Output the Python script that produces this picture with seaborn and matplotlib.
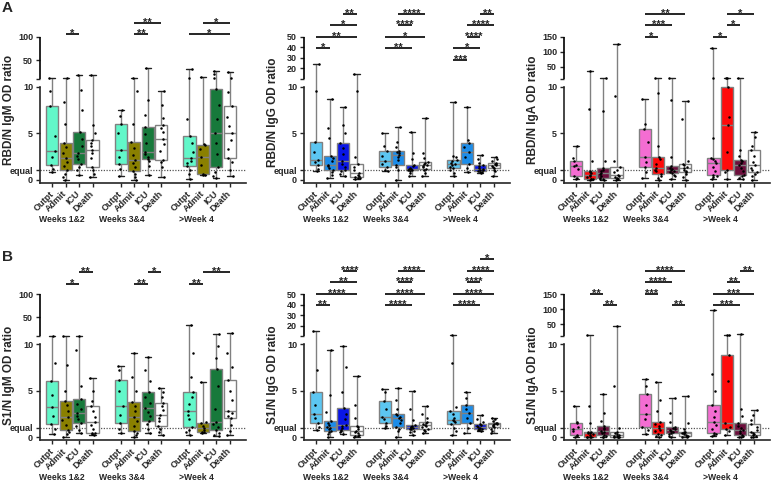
import numpy as np
import pandas as pd
import matplotlib
matplotlib.use("Agg")
import matplotlib.pyplot as plt
import matplotlib.transforms as mtransforms
import seaborn as sns

# ---------------------------------------------------------------
# categories
# ---------------------------------------------------------------
statuses = ["Outpt", "Admit", "ICU", "Death"]
periods = ["Weeks 1&2", "Weeks 3&4", ">Week 4"]

# ---------------------------------------------------------------
# OD ratios (one list per box: Outpt, Admit, ICU, Death)
# ---------------------------------------------------------------
rbd_igm_w12 = [
    [0.8, 1.2, 1.6, 2.4, 3.1, 4.7, 7.9, 9.5, 11.0],
    [0.0, 0.3, 0.6, 1.0, 1.5, 1.9, 2.3, 2.9, 3.5, 4.0, 6.0, 8.4, 12.0],
    [0.5, 1.0, 1.4, 1.7, 2.2, 2.6, 2.9, 3.6, 4.4, 5.1, 7.5, 9.7, 18.0],
    [0.3, 0.6, 1.1, 1.4, 2.3, 2.9, 3.2, 3.6, 4.0, 4.3, 5.0, 5.9, 18.0],
]
rbd_igm_w34 = [
    [0.45, 1.2, 1.7, 2.4, 3.2, 5.0, 6.0, 6.9, 7.5],
    [0.0, 0.3, 0.6, 0.9, 1.4, 1.8, 2.15, 2.7, 3.4, 4.05, 6.0, 9.5, 12.0],
    [0.5, 1.5, 2.0, 2.26, 2.5, 2.8, 3.0, 4.0, 4.9, 5.66, 7.0, 8.6, 32.0],
    [0.3, 1.4, 1.9, 2.15, 3.1, 3.9, 4.4, 5.1, 5.6, 5.84, 6.7, 8.0, 9.6],
]
rbd_igm_w4 = [
    [0.1, 0.6, 1.0, 1.43, 1.8, 2.0, 2.3, 3.0, 4.0, 4.66, 6.5, 12.0, 30.0],
    [0.5, 0.55, 0.6, 1.6, 2.4, 3.3, 3.7, 3.9, 13.0],
    [0.2, 0.4, 0.8, 1.4, 2.8, 4.0, 5.0, 6.5, 8.0, 9.75, 11.0, 20.0, 27.0],
    [0.4, 1.1, 1.9, 2.3, 3.3, 4.3, 5.0, 5.8, 6.8, 7.96, 9.4, 12.0, 25.0],
]

rbd_igg_w12 = [
    [0.9, 1.2, 1.6, 1.9, 2.15, 3.0, 4.05, 9.6, 24.0],
    [0.2, 0.5, 0.8, 1.07, 1.3, 1.45, 1.6, 2.0, 2.3, 2.6, 4.5, 5.6, 8.7],
    [0.35, 0.6, 0.9, 1.07, 1.4, 1.7, 2.0, 2.8, 3.4, 3.95, 5.0, 5.9, 7.8],
    [0.1, 0.15, 0.2, 0.25, 0.4, 0.55, 0.7, 1.0, 1.4, 1.7, 2.5, 9.6, 15.0],
]
rbd_igg_w34 = [
    [0.9, 1.1, 1.4, 1.7, 2.0, 2.6, 3.1, 3.6, 5.0],
    [0.0, 1.0, 1.35, 1.6, 2.1, 2.5, 2.7, 2.85, 2.95, 3.05, 3.5, 4.1, 5.7],
    [0.35, 0.7, 0.9, 1.07, 1.1, 1.15, 1.2, 1.3, 1.45, 1.6, 2.2, 2.9, 5.1],
    [0.35, 0.7, 1.0, 1.2, 1.35, 1.5, 1.6, 1.7, 1.8, 1.9, 2.3, 2.9, 6.7],
]
rbd_igg_w4 = [
    [0.35, 0.7, 1.0, 1.25, 1.4, 1.55, 1.7, 1.85, 2.0, 2.15, 2.4, 2.6, 8.35],
    [0.8, 1.3, 1.7, 2.4, 3.0, 3.5, 3.95, 4.3, 7.8],
    [0.7, 0.8, 0.85, 0.9, 1.0, 1.1, 1.2, 1.3, 1.45, 1.55, 1.8, 2.2, 2.7],
    [0.35, 0.9, 1.1, 1.25, 1.4, 1.5, 1.6, 1.65, 1.7, 1.8, 2.0, 2.2, 2.5],
]

rbd_iga_w12 = [
    [0.1, 0.2, 0.36, 1.2, 1.43, 1.6, 2.05, 2.3, 3.65],
    [0.0, 0.05, 0.08, 0.1, 0.3, 0.45, 0.54, 0.7, 0.8, 0.9, 2.0, 7.6, 35.0],
    [0.0, 0.05, 0.1, 0.18, 0.4, 0.6, 0.72, 0.9, 1.1, 1.25, 2.0, 7.4, 12.0],
    [0.0, 0.05, 0.1, 0.18, 0.3, 0.45, 0.54, 0.8, 1.1, 1.33, 2.0, 9.0, 125.0],
]
rbd_iga_w34 = [
    [0.18, 0.8, 1.36, 1.9, 2.5, 4.1, 5.45, 6.0, 8.7],
    [0.0, 0.2, 0.4, 0.65, 0.9, 1.1, 1.25, 1.7, 2.2, 2.5, 3.6, 9.3, 12.0],
    [0.1, 0.35, 0.55, 0.72, 0.85, 0.95, 1.07, 1.2, 1.3, 1.43, 2.5, 8.6, 12.0],
    [0.0, 0.3, 0.6, 0.79, 0.95, 1.1, 1.25, 1.4, 1.6, 1.72, 2.0, 6.5, 8.5],
]
rbd_iga_w4 = [
    [0.1, 0.25, 0.35, 0.47, 0.9, 1.4, 1.8, 2.0, 2.2, 2.33, 4.5, 12.0, 113.0],
    [0.1, 0.8, 1.07, 3.0, 5.85, 6.8, 10.0, 14.0, 14.0],
    [0.1, 0.2, 0.35, 0.54, 0.9, 1.3, 1.6, 1.8, 2.0, 2.15, 2.6, 3.2, 14.0],
    [0.0, 0.4, 0.6, 0.82, 1.1, 1.3, 1.54, 1.9, 2.6, 3.15, 3.6, 4.6, 5.1],
]

s1_igm_w12 = [
    [0.32, 0.9, 1.4, 2.3, 3.2, 4.5, 6.06, 8.0, 11.0],
    [0.0, 0.3, 0.5, 0.76, 1.3, 1.8, 2.2, 2.8, 3.4, 3.9, 5.0, 7.8, 11.0],
    [0.4, 0.8, 1.2, 1.55, 1.9, 2.3, 2.56, 3.0, 3.6, 4.1, 5.5, 9.4, 11.0],
    [0.2, 0.3, 0.4, 0.47, 0.9, 1.3, 1.66, 2.2, 2.8, 3.3, 3.9, 5.0, 6.35],
]
s1_igm_w34 = [
    [0.4, 0.9, 1.55, 2.4, 3.36, 5.0, 6.1, 7.2, 7.6],
    [0.0, 0.2, 0.4, 0.65, 1.2, 1.7, 2.2, 2.8, 3.3, 3.75, 5.0, 6.5, 9.1],
    [0.4, 0.9, 1.4, 1.77, 2.3, 2.7, 3.1, 3.7, 4.3, 4.8, 6.0, 7.2, 8.6],
    [0.2, 0.5, 0.9, 1.2, 1.7, 2.1, 2.4, 2.9, 3.3, 3.7, 4.3, 4.9, 5.27],
]
s1_igm_w4 = [
    [0.2, 0.5, 0.8, 1.12, 1.9, 2.4, 2.85, 3.6, 4.3, 4.84, 6.5, 9.0, 33.0],
    [0.4, 0.5, 0.58, 0.8, 0.94, 1.2, 1.55, 1.6, 5.9],
    [0.1, 0.2, 0.4, 0.76, 1.1, 1.4, 1.66, 3.0, 5.5, 7.3, 8.5, 9.8, 14.0],
    [0.2, 0.6, 1.3, 2.0, 2.3, 2.6, 2.8, 4.0, 5.0, 6.1, 7.5, 9.0, 17.0],
]

s1_igg_w12 = [
    [0.76, 1.1, 1.55, 2.0, 2.5, 3.5, 4.9, 7.2, 15.0],
    [0.04, 0.3, 0.5, 0.69, 0.85, 1.0, 1.1, 1.3, 1.5, 1.77, 2.7, 4.5, 9.4],
    [0.3, 0.5, 0.65, 0.76, 0.95, 1.15, 1.3, 1.9, 2.5, 3.1, 4.9, 7.5, 9.8],
    [0.0, 0.08, 0.15, 0.22, 0.4, 0.55, 0.65, 0.85, 1.05, 1.23, 2.0, 3.5, 6.6],
]
s1_igg_w34 = [
    [1.0, 1.2, 1.5, 1.9, 2.2, 3.0, 3.9, 4.9, 5.2],
    [0.04, 0.6, 0.9, 1.1, 1.5, 1.8, 2.0, 2.2, 2.35, 2.5, 3.0, 4.0, 5.3],
    [0.2, 0.5, 0.7, 0.83, 0.9, 1.0, 1.05, 1.1, 1.2, 1.26, 1.8, 3.0, 5.0],
    [0.4, 0.6, 0.8, 0.9, 1.05, 1.2, 1.3, 1.4, 1.5, 1.6, 2.0, 2.5, 3.3],
]
s1_igg_w4 = [
    [0.2, 0.6, 1.0, 1.4, 1.6, 1.7, 1.84, 2.1, 2.5, 2.8, 3.2, 8.0, 10.6],
    [0.47, 1.0, 1.55, 2.1, 2.56, 3.0, 3.5, 4.2, 4.9],
    [0.7, 0.75, 0.8, 0.83, 0.9, 1.0, 1.1, 1.2, 1.3, 1.37, 1.6, 1.9, 2.4],
    [0.4, 0.7, 0.9, 1.05, 1.2, 1.3, 1.4, 1.45, 1.5, 1.55, 1.7, 1.9, 2.1],
]

s1_iga_w12 = [
    [0.0, 0.1, 0.22, 0.6, 0.87, 1.1, 1.48, 1.6, 3.3],
    [0.0, 0.0, 0.02, 0.05, 0.2, 0.3, 0.4, 0.45, 0.5, 0.58, 1.5, 3.3, 14.0],
    [0.0, 0.05, 0.12, 0.22, 0.4, 0.55, 0.65, 0.85, 1.0, 1.2, 1.7, 2.6, 4.6],
    [0.0, 0.01, 0.02, 0.04, 0.1, 0.15, 0.22, 0.35, 0.45, 0.58, 1.0, 5.5, 43.0],
]
s1_iga_w34 = [
    [0.32, 0.8, 1.12, 1.9, 2.5, 3.4, 4.6, 5.5, 6.2],
    [0.0, 0.1, 0.2, 0.32, 0.6, 0.8, 0.94, 1.2, 1.4, 1.6, 2.8, 4.0, 5.9],
    [0.0, 0.15, 0.3, 0.4, 0.55, 0.65, 0.76, 0.9, 1.0, 1.12, 1.6, 2.6, 4.2],
    [0.0, 0.03, 0.06, 0.1, 0.2, 0.3, 0.4, 0.45, 0.5, 0.58, 0.9, 1.5, 4.4],
]
s1_iga_w4 = [
    [0.1, 0.2, 0.3, 0.47, 0.9, 1.3, 1.66, 2.2, 2.8, 3.4, 5.0, 6.8, 98.0],
    [0.2, 0.6, 0.87, 1.1, 1.48, 6.0, 8.8, 13.5, 14.0],
    [0.0, 0.05, 0.12, 0.22, 0.4, 0.6, 0.76, 1.0, 1.2, 1.48, 2.3, 3.0, 18.0],
    [0.0, 0.05, 0.12, 0.22, 0.35, 0.45, 0.58, 0.8, 1.1, 1.37, 1.8, 2.4, 2.9],
]

# significance bars: (period, box i, box j, stacking level, label)
rbd_igm_sig = [(0, 1, 2, 0, "*"), (1, 1, 2, 0, "**"), (1, 1, 3, 1, "**"),
               (2, 0, 3, 0, "*"), (2, 1, 3, 1, "*")]
rbd_igg_sig = [(0, 0, 1, 1, "*"), (0, 0, 3, 2, "**"), (0, 1, 3, 3, "*"), (0, 2, 3, 4, "**"),
               (1, 0, 2, 1, "**"), (1, 0, 3, 2, "*"), (1, 1, 2, 3, "****"), (1, 1, 3, 4, "****"),
               (2, 0, 1, 0, "***"), (2, 0, 2, 1, "*"), (2, 1, 2, 2, "****"),
               (2, 1, 3, 3, "****"), (2, 2, 3, 4, "**")]
rbd_iga_sig = [(1, 0, 1, 0, "*"), (1, 0, 2, 1, "***"), (1, 0, 3, 2, "**"),
               (2, 0, 1, 0, "*"), (2, 1, 2, 1, "*"), (2, 1, 3, 2, "*")]
s1_igm_sig = [(0, 1, 2, 0, "*"), (0, 2, 3, 1, "**"), (1, 1, 2, 0, "**"),
              (1, 2, 3, 1, "*"), (2, 0, 1, 0, "**"), (2, 1, 3, 1, "**")]
s1_igg_sig = [(0, 0, 1, 0, "**"), (0, 0, 3, 1, "****"), (0, 1, 3, 2, "**"), (0, 2, 3, 3, "****"),
              (1, 0, 2, 0, "****"), (1, 0, 3, 1, "****"), (1, 1, 2, 2, "****"), (1, 1, 3, 3, "****"),
              (2, 0, 2, 0, "****"), (2, 0, 3, 1, "****"), (2, 1, 2, 2, "****"),
              (2, 1, 3, 3, "****"), (2, 2, 3, 4, "*")]
s1_iga_sig = [(0, 2, 3, 0, "**"), (0, 1, 2, 1, "**"),
              (1, 2, 3, 0, "**"), (1, 0, 1, 1, "***"), (1, 0, 2, 2, "****"), (1, 0, 3, 3, "****"),
              (2, 0, 2, 0, "***"), (2, 0, 3, 1, "***"), (2, 1, 2, 2, "**"), (2, 2, 3, 3, "**")]

igm_colors = ["#62F7C9", "#8A8000", "#17793B", "#FFFFFF"]
igg_colors = ["#5CC6F2", "#1C8DEA", "#0A16E6", "#FFFFFF"]
iga_colors = ["#F46DD2", "#FF0A0A", "#6C0E3C", "#FFFFFF"]

# ---------------------------------------------------------------
# layout
# ---------------------------------------------------------------
W, H = 772, 482
x_pos = [0, 1, 2, 3, 5.1, 6.1, 7.1, 8.1, 10.2, 11.2, 12.2, 13.2]
XLIM = (-0.9, 14.4)
YBOT = -0.32
GAP = 0.87      # size of the axis break (lower-axis units)
UPPER = 4.53    # height of the upper segment (lower-axis units)
LEVEL_STEP = 11.5


def break_scale(k):
    def fwd(y):
        y = np.asarray(y, dtype=float)
        return np.where(y <= 10, y, 10 + GAP + (y - 10) * k)

    def inv(t):
        t = np.asarray(t, dtype=float)
        return np.where(t <= 10, t,
                        np.where(t < 10 + GAP, 10.0, 10 + (t - 10 - GAP) / k))
    return fwd, inv


def long_frame(groups):
    rows = []
    for gi, group in enumerate(groups):
        for si, vals in enumerate(group):
            for v in vals:
                rows.append({"x": x_pos[gi * 4 + si], "status": statuses[si], "value": v})
    return pd.DataFrame(rows)


def draw_panel(fig, left_px, row_top_px, ylabel, ylabel_y, groups, colors,
               top, upper_ticks, sig, sig_base_px, group_y_px):
    height_px = 146
    bottom_px = row_top_px + height_px
    ax = fig.add_axes([left_px / W, 1 - bottom_px / H, 206 / W, height_px / H])
    k = UPPER / (top - 10)
    ax.set_yscale("function", functions=break_scale(k))

    df = long_frame(groups)
    sns.boxplot(data=df, x="x", y="value", hue="status", hue_order=statuses,
                palette=dict(zip(statuses, colors)), native_scale=True, dodge=False,
                whis=(0, 100), width=0.9, saturation=1, linecolor="#808080",
                linewidth=1, showfliers=False, legend=False, ax=ax,
                capprops={"color": "#222222"})
    sns.stripplot(data=df, x="x", y="value", native_scale=True, color="black",
                  size=1.8, jitter=0.24, linewidth=0, ax=ax, zorder=4)

    ax.axhline(1, color="#555555", lw=0.9, ls=(0, (1, 1.2)), zorder=0.5)

    ax.set_xlim(*XLIM)
    ax.set_ylim(YBOT, top)
    ax.set_xlabel("")
    ax.set_ylabel("")

    for side in ["top", "right"]:
        ax.spines[side].set_visible(False)
    ax.spines["left"].set_bounds(YBOT, 10)
    ax.spines["left"].set_linewidth(1.2)
    ax.spines["bottom"].set_linewidth(1.2)
    ax.plot([XLIM[0], XLIM[0]], [10.0001, top], color="black", lw=1.2,
            clip_on=False, solid_capstyle="butt")

    yt = [0, 1, 5, 10, 10.0001] + upper_ticks
    ytl = ["0", "equal", "5", "10", ""] + [str(t) for t in upper_ticks]
    ax.set_yticks(yt)
    ax.set_yticklabels(ytl, fontsize=6.5, fontweight="bold")
    ax.minorticks_off()
    ax.set_xticks(x_pos)
    ax.set_xticklabels(statuses * 3, fontsize=6.5, fontweight="bold",
                       rotation=45, ha="right", va="center", rotation_mode="anchor")
    ax.tick_params(axis="both", direction="out", length=3, width=1, pad=2)
    ax.tick_params(axis="x", pad=4)

    fig.text((left_px - 31) / W, 1 - ylabel_y / H, ylabel, rotation=90,
             ha="center", va="center", fontsize=8.5, fontweight="bold")

    trans = mtransforms.blended_transform_factory(ax.transData, fig.transFigure)
    for gi, name in enumerate(periods):
        cx = [0.75, 5.15, 10.7][gi]
        fig.text(cx, 1 - group_y_px / H, name, transform=trans,
                 ha="center", va="center", fontsize=6.2, fontweight="bold")

    for gi, i, j, level, label in sig:
        ypx = sig_base_px - level * LEVEL_STEP
        x1, x2 = x_pos[gi * 4 + i], x_pos[gi * 4 + j]
        ax.plot([x1, x2], [1 - ypx / H] * 2, transform=trans, color="black",
                lw=1.2, clip_on=False, solid_capstyle="butt")
        ax.text((x1 + x2) / 2, 1 - (ypx + 3) / H, label, transform=trans,
                ha="center", va="baseline", fontsize=8, fontweight="bold")
    return ax


sns.set_style("ticks")
plt.rcParams["font.family"] = ["Liberation Sans", "DejaVu Sans"]
np.random.seed(3)

fig = plt.figure(figsize=(W / 100, H / 100), dpi=100)

draw_panel(fig, 40, 36.7, "RBD/N IgM OD ratio", 110,
           [rbd_igm_w12, rbd_igm_w34, rbd_igm_w4], igm_colors,
           100, [50, 100], rbd_igm_sig, 34, 220)
draw_panel(fig, 304, 36.7, "RBD/N IgG OD ratio", 112,
           [rbd_igg_w12, rbd_igg_w34, rbd_igg_w4], igg_colors,
           50, [20, 30, 40, 50], rbd_igg_sig, 59.5, 220)
draw_panel(fig, 564, 36.7, "RBD/N IgA OD ratio", 110,
           [rbd_iga_w12, rbd_iga_w34, rbd_iga_w4], iga_colors,
           150, [50, 100, 150], rbd_iga_sig, 36.5, 220)

draw_panel(fig, 40, 294, "S1/N IgM OD ratio", 375,
           [s1_igm_w12, s1_igm_w34, s1_igm_w4], igm_colors,
           100, [50, 100], s1_igm_sig, 283.5, 478)
draw_panel(fig, 304, 294, "S1/N IgG OD ratio", 375,
           [s1_igg_w12, s1_igg_w34, s1_igg_w4], igg_colors,
           50, [20, 30, 40, 50], s1_igg_sig, 305, 478)
draw_panel(fig, 564, 294, "S1/N IgA OD ratio", 375,
           [s1_iga_w12, s1_iga_w34, s1_iga_w4], iga_colors,
           150, [50, 100, 150], s1_iga_sig, 305, 478)

fig.text(2 / W, 1 - 1 / H, "A", ha="left", va="top", fontsize=11, fontweight="bold")
fig.text(2 / W, 1 - 250 / H, "B", ha="left", va="top", fontsize=11, fontweight="bold")

fig.savefig("out.png", dpi=100)
